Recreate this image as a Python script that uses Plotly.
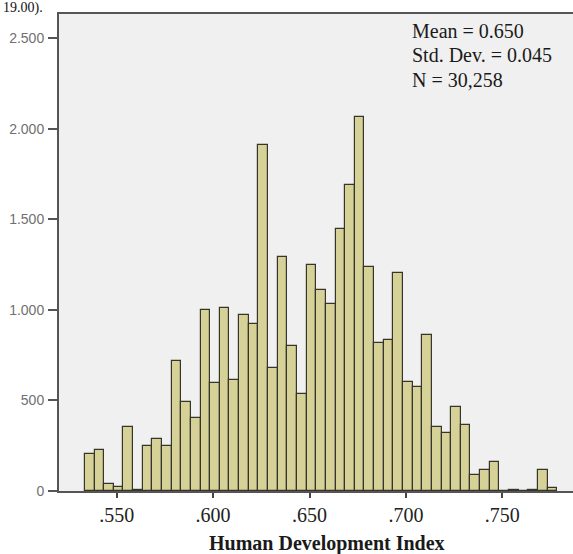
import plotly.graph_objects as go

# Bin centres of the histogram (Human Development Index)
bin_centers = [0.536, 0.541, 0.546, 0.551, 0.556, 0.561, 0.566, 0.571, 0.576, 0.581,
               0.586, 0.591, 0.596, 0.601, 0.606, 0.611, 0.616, 0.621, 0.626, 0.631,
               0.636, 0.641, 0.646, 0.651, 0.656, 0.661, 0.666, 0.671, 0.676, 0.681,
               0.686, 0.691, 0.696, 0.701, 0.706, 0.711, 0.716, 0.721, 0.726, 0.731,
               0.736, 0.741, 0.746, 0.751, 0.756, 0.761, 0.766, 0.771, 0.776]
# Frequencies
counts = [204, 225, 40, 22, 353, 8, 248, 287, 248, 717,
          491, 404, 999, 598, 1012, 613, 975, 925, 1913, 677,
          1290, 800, 535, 1247, 1109, 1032, 1450, 1689, 2066, 1238,
          815, 833, 1205, 603, 572, 861, 355, 322, 462, 364,
          88, 116, 162, 0, 4, 0, 4, 118, 15]
bin_width = 0.005

x_tickvals = [0.55, 0.60, 0.65, 0.70, 0.75]
x_ticktext = [".550", ".600", ".650", ".700", ".750"]
y_tickvals = [0, 500, 1000, 1500, 2000, 2500]
y_ticktext = ["0", "500", "1.000", "1.500", "2.000", "2.500"]

stats_lines = ["Mean = 0.650", "Std. Dev. = 0.045", "N = 30,258"]
x_title = "Human Development Index"

W, H = 573, 554
L, R, T, B = 59, 0, 14, 63
plot_h = H - T - B

fig = go.Figure()
fig.add_trace(go.Bar(
    x=bin_centers, y=counts, width=bin_width,
    marker=dict(color="#D6D196", line=dict(color="#36352C", width=1.2)),
    hoverinfo="x+y", showlegend=False,
))

serif = "Liberation Serif, Times New Roman, serif"

def ypaper(pix):
    return (H - B - pix) / plot_h

annotations = []
for i, line in enumerate(stats_lines):
    annotations.append(dict(
        text=line, xref="paper", yref="paper",
        x=(409.5 - L) / (W - L - R), y=ypaper(30.7 + 24.7 * i),
        xanchor="left", yanchor="middle", showarrow=False,
        font=dict(family=serif, size=20, color="#1a1a1a"),
    ))
annotations.append(dict(
    text="<b>" + x_title + "</b>", xref="paper", yref="paper",
    x=(326.7 - L) / (W - L - R), y=ypaper(543),
    xanchor="center", yanchor="middle", showarrow=False,
    font=dict(family=serif, size=20, color="#1a1a1a"),
))
annotations.append(dict(
    text="19.00).", xref="paper", yref="paper",
    x=(1 - L) / (W - L - R), y=ypaper(8),
    xanchor="left", yanchor="middle", showarrow=False,
    font=dict(family=serif, size=14, color="#111111"),
))

fig.update_layout(
    width=W, height=H,
    margin=dict(l=L, r=R, t=T, b=B, pad=0),
    paper_bgcolor="white", plot_bgcolor="#F0F0F0",
    bargap=0,
    annotations=annotations,
    xaxis=dict(
        range=[0.52007, 0.78667],
        tickvals=x_tickvals, ticktext=x_ticktext,
        ticks="outside", ticklen=5, tickwidth=1.5, tickcolor="#444444",
        tickfont=dict(family=serif, size=20, color="#222222"),
        showgrid=False, zeroline=False,
        showline=True, linecolor="#555555", linewidth=2, mirror=True,
        ticklabelstandoff=0,
    ),
    yaxis=dict(
        range=[0, 2635],
        tickvals=y_tickvals, ticktext=y_ticktext,
        ticks="outside", ticklen=9, tickwidth=1.5, tickcolor="#555555",
        tickfont=dict(family="Liberation Sans, Arial, sans-serif", size=14, color="#707070"),
        showgrid=False, zeroline=False,
        showline=True, linecolor="#555555", linewidth=2, mirror=False,
        ticklabelstandoff=1,
    ),
)

fig.write_html("out.html")
